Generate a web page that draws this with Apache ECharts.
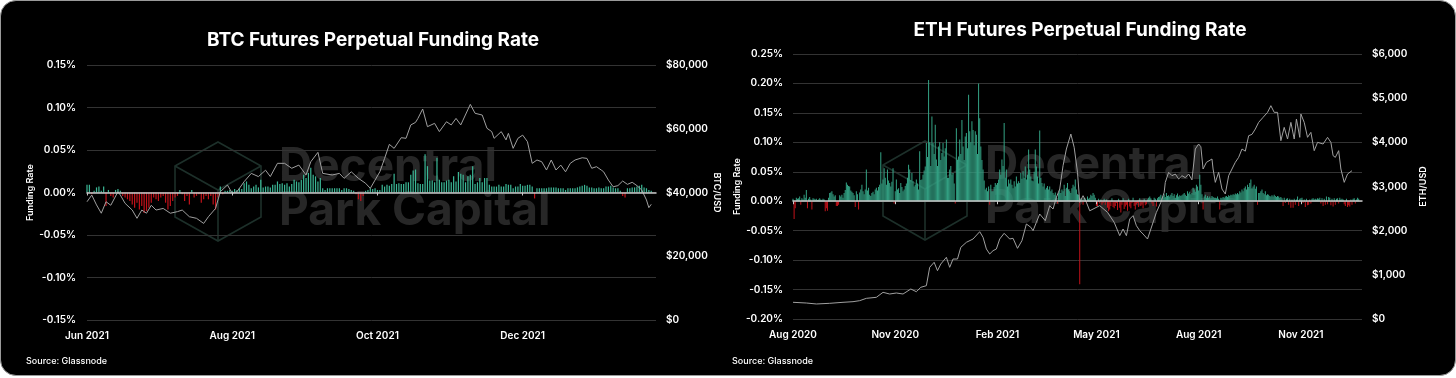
<!DOCTYPE html>
<html><head><meta charset="utf-8">
<script src="https://cdn.jsdelivr.net/npm/echarts@6/dist/echarts.min.js"></script>
<style>
html,body{margin:0;padding:0;background:#fff;width:1456px;height:378px;overflow:hidden}
#bg{position:absolute;left:0;top:0;width:1454px;height:374px;background:#000;border:1px solid #9a9a9a;border-radius:16px}
#chart{position:absolute;left:0;top:0;width:1456px;height:378px}
</style></head><body><div id="bg"></div><div id="chart"></div>
<script>
// ---------------- DATA ----------------
const btcStart = '2021-06-01';
const btcEnd = '2022-01-26';
const btcMonthTicks = ['2021-06-01','2021-08-01','2021-10-01','2021-12-01'];
// daily funding rate (%) from btcStart
const btcFunding = [
0.009,0.009,-0.002,0.002,0.006,0.007,0.002,0.007,-0.016,0.003,
-0.004,-0.006,0.003,0.004,0.002,-0.004,-0.006,-0.008,-0.010,-0.014,
-0.018,-0.012,-0.020,-0.016,-0.024,-0.022,-0.018,-0.012,-0.006,-0.008,
-0.010,-0.006,-0.004,-0.012,-0.020,-0.016,-0.010,-0.006,-0.004,0.003,
-0.002,-0.010,-0.004,-0.014,0.003,-0.006,-0.004,-0.002,-0.012,-0.008,
-0.004,-0.008,-0.004,-0.014,-0.020,-0.006,0.007,-0.002,0.002,0.002,
0.003,0.002,0.004,0.003,0.005,0.004,0.011,0.013,0.009,0.005,
0.007,0.009,0.006,0.015,0.006,0.007,0.007,0.006,0.009,0.009,
0.013,0.010,0.011,0.009,0.011,0.007,0.010,0.015,0.013,0.012,
0.015,0.021,0.017,0.023,0.029,0.021,0.019,0.013,0.017,0.005,
0.003,0.005,0.005,0.005,0.005,0.005,0.005,0.003,0.005,0.005,
0.004,0.003,0.002,-0.002,-0.008,-0.010,-0.004,0.002,0.003,0.005,
0.004,0.005,0.003,0.003,0.009,0.007,0.009,0.008,0.010,0.022,
0.010,0.011,0.010,0.010,0.012,0.012,0.021,0.026,0.027,0.011,
0.010,0.010,0.045,0.031,0.014,0.014,0.012,0.041,0.015,0.012,
0.012,0.014,0.015,0.012,0.019,0.013,0.024,0.022,0.021,0.012,
0.019,0.021,0.031,0.010,0.012,0.017,0.012,0.017,0.017,0.009,
0.007,0.007,0.007,0.009,0.007,0.007,0.010,0.009,0.009,0.005,
0.007,0.007,0.010,0.008,0.008,0.009,0.009,0.007,-0.007,0.005,
0.005,0.005,0.005,0.005,0.006,0.006,0.006,0.006,0.005,0.005,
0.005,0.003,0.005,0.005,0.005,0.005,0.006,0.007,0.008,0.009,
0.008,0.006,0.006,0.005,0.005,0.006,0.005,0.005,0.007,0.007,
0.008,0.006,0.005,0.005,0.002,-0.004,-0.006,0.005,0.005,0.006,
0.006,0.007,0.008,0.009,0.006,0.005,0.003,0.002
];
const btcPrice = [
['2021-06-01',37100],['2021-06-03',39200],['2021-06-05',36100],['2021-06-07',33500],['2021-06-09',37100],
['2021-06-11',36000],['2021-06-14',40250],['2021-06-15',39200],['2021-06-17',36600],['2021-06-20',34500],
['2021-06-22',31900],['2021-06-24',34500],['2021-06-26',33500],['2021-06-28',36000],['2021-06-30',34500],
['2021-07-03',35000],['2021-07-06',33500],['2021-07-09',34000],['2021-07-11',34500],['2021-07-14',32400],
['2021-07-17',31900],['2021-07-20',30300],['2021-07-22',32400],['2021-07-25',35000],['2021-07-27',40250],
['2021-07-30',42350],['2021-08-01',39750],['2021-08-03',40250],['2021-08-06',43400],['2021-08-09',46000],
['2021-08-12',45000],['2021-08-15',47000],['2021-08-17',45000],['2021-08-20',49150],['2021-08-23',49150],
['2021-08-26',47600],['2021-08-29',48600],['2021-09-01',45500],['2021-09-03',49650],['2021-09-06',52600],
['2021-09-08',46000],['2021-09-12',45500],['2021-09-15',46000],['2021-09-17',44450],['2021-09-20',46500],
['2021-09-23',44450],['2021-09-26',42900],['2021-09-28',41300],['2021-09-30',43900],['2021-10-02',46500],
['2021-10-04',50700],['2021-10-06',55100],['2021-10-08',53850],['2021-10-11',57200],['2021-10-13',57000],
['2021-10-15',61200],['2021-10-17',62000],['2021-10-18',63250],['2021-10-20',66200],['2021-10-22',60650],
['2021-10-25',61700],['2021-10-27',59100],['2021-10-30',62200],['2021-11-01',61200],['2021-11-03',63250],
['2021-11-05',61200],['2021-11-09',67650],['2021-11-11',64850],['2021-11-14',64300],['2021-11-16',60150],
['2021-11-18',59100],['2021-11-19',57000],['2021-11-22',59100],['2021-11-24',56500],['2021-11-25',58550],
['2021-11-27',53850],['2021-11-29',57000],['2021-12-01',58000],['2021-12-03',55950],['2021-12-05',49150],
['2021-12-07',50200],['2021-12-09',49650],['2021-12-11',47050],['2021-12-13',50200],['2021-12-15',47050],
['2021-12-17',48600],['2021-12-19',46500],['2021-12-21',49150],['2021-12-23',50200],['2021-12-26',50900],
['2021-12-28',50700],['2021-12-30',47600],['2022-01-01',48100],['2022-01-03',47050],['2022-01-04',46500],
['2022-01-06',43900],['2022-01-08',41800],['2022-01-10',42150],['2022-01-12',43600],['2022-01-14',42550],
['2022-01-16',43200],['2022-01-18',42150],['2022-01-20',40800],['2022-01-22',37650],['2022-01-23',35250],
['2022-01-24',36300]
];

const ethStart = '2020-08-01';
const ethEnd = '2021-12-26';
const ethMonthTicks = ['2020-08-01','2020-11-01','2021-02-01','2021-05-01','2021-08-01','2021-11-01'];
const ethFunding = [
0.004,-0.030,-0.012,0.006,0.004,0.005,0.008,-0.006,0.005,0.003,
0.011,0.006,0.019,-0.012,0.004,0.007,0.003,-0.014,0.005,0.004,
0.003,0.004,0.002,0.003,0.005,0.003,0.002,0.004,0.003,-0.017,
-0.012,-0.016,0.006,0.014,0.015,0.017,0.012,0.008,0.010,-0.008,
-0.008,-0.006,0.010,0.008,0.011,0.006,0.014,0.019,0.032,0.028,
0.026,0.025,0.018,0.016,0.014,0.010,-0.010,0.017,0.012,-0.014,
0.015,0.020,0.028,0.017,0.012,0.020,0.054,0.018,0.023,0.011,
0.009,0.014,0.016,0.012,0.020,0.023,0.018,0.024,0.028,0.083,
0.030,0.037,0.056,0.040,0.028,0.054,0.035,0.031,0.025,0.033,
0.056,-0.004,0.017,0.037,0.020,0.022,0.014,0.031,0.024,0.017,
0.020,0.026,0.030,0.040,0.062,0.054,0.036,0.048,0.034,0.025,
0.028,0.037,0.030,0.020,0.085,0.036,0.037,0.045,0.052,0.059,
0.099,0.075,0.206,0.100,0.060,0.144,0.099,0.080,0.130,0.071,
0.060,0.093,0.100,0.070,0.082,0.099,0.076,0.090,0.105,0.040,
0.040,0.054,0.060,0.045,0.048,0.030,-0.004,0.124,0.070,0.076,
0.105,0.080,0.138,0.093,0.070,0.110,0.116,0.090,0.181,0.119,
0.100,0.136,0.121,0.095,0.119,0.113,0.080,0.200,0.141,0.093,
0.070,0.054,0.035,0.020,0.023,0.017,0.025,-0.006,0.028,0.017,
0.017,0.024,0.031,0.028,0.031,0.037,0.054,0.045,0.071,0.060,
0.133,0.040,0.054,0.025,0.037,0.030,0.037,0.028,0.022,0.034,
0.025,0.042,0.030,0.034,0.031,0.048,0.038,0.051,0.040,0.059,
0.037,0.045,0.088,0.054,0.042,0.035,0.034,0.050,0.088,0.059,
0.042,0.030,0.120,0.040,0.031,0.025,0.030,0.020,0.023,0.026,
0.020,0.025,0.017,0.020,0.014,0.011,0.015,0.008,-0.004,0.014,
0.020,0.014,0.020,0.017,0.028,0.009,0.023,0.031,0.020,0.017,
0.014,0.022,0.028,0.025,0.037,0.020,0.012,0.011,-0.141,0.004,
0.003,-0.006,0.006,0.004,-0.003,0.008,0.004,0.006,0.011,0.009,
0.014,0.011,0.006,-0.008,-0.008,0.004,-0.004,0.003,-0.006,-0.003,
0.004,-0.006,0.003,-0.011,-0.017,-0.014,-0.008,0.005,-0.010,-0.012,
-0.008,-0.003,-0.015,0.004,-0.011,-0.019,-0.006,0.005,-0.013,-0.009,
-0.006,-0.016,0.004,-0.009,-0.012,-0.003,0.006,-0.008,-0.014,-0.005,
-0.003,-0.010,0.005,-0.008,-0.006,-0.012,0.004,-0.007,-0.005,0.003,
0.006,0.008,0.005,-0.004,-0.008,0.006,0.004,-0.009,0.005,0.007,
0.008,0.011,0.006,0.009,0.012,0.007,0.014,0.009,0.010,0.008,
0.011,0.014,0.009,0.012,0.006,0.010,0.013,0.008,0.010,0.009,
0.010,0.012,0.014,0.011,0.009,0.017,0.013,0.016,0.012,0.014,
0.023,0.020,0.016,0.028,0.025,0.018,0.045,0.028,0.012,-0.014,
0.008,0.011,0.006,0.009,0.006,0.008,0.005,0.009,0.007,0.006,
0.006,0.005,0.008,0.004,-0.014,0.006,0.005,0.007,0.006,0.008,
0.009,0.007,0.010,0.009,0.011,0.010,0.012,0.011,0.013,0.012,
0.014,0.012,0.017,0.015,0.020,0.017,0.022,0.025,0.020,0.028,
0.024,0.031,0.037,0.022,0.025,0.028,0.021,0.025,-0.006,0.014,
0.014,0.017,0.020,0.014,0.012,0.017,0.010,0.012,0.011,0.009,
0.008,0.010,0.008,0.011,0.009,0.007,0.009,0.008,0.006,0.007,
0.005,-0.008,0.006,-0.003,0.004,0.005,-0.006,0.004,-0.011,0.003,
-0.011,0.004,-0.006,0.003,0.008,-0.008,0.004,0.005,0.006,-0.003,
0.003,-0.010,0.004,-0.007,-0.006,0.003,-0.004,0.004,0.005,0.003,
0.004,0.003,0.005,0.004,0.006,-0.004,0.005,-0.008,0.004,-0.006,
0.008,-0.005,0.007,0.006,-0.007,0.004,-0.009,0.005,-0.006,0.004,
0.005,-0.004,0.006,0.003,0.004,0.003,-0.005,-0.008,0.004,-0.010,
-0.007,-0.009,0.003,-0.006,0.004,0.005,-0.004,0.003,0.006,0.004
];
const ethPrice = [
['2020-08-01',378],['2020-08-13',362],['2020-08-22',340],['2020-09-03',355],['2020-09-15',378],
['2020-09-24',392],['2020-09-30',415],['2020-10-06',468],['2020-10-15',491],['2020-10-21',604],
['2020-10-27',566],['2020-11-02',589],['2020-11-08',566],['2020-11-15',679],['2020-11-20',618],
['2020-11-24',718],['2020-11-29',754],['2020-12-02',1170],['2020-12-06',1284],['2020-12-09',1094],
['2020-12-12',1245],['2020-12-17',1397],['2020-12-20',1170],['2020-12-23',1358],['2020-12-27',1358],
['2020-12-30',1623],['2021-01-04',1736],['2021-01-10',1811],['2021-01-16',1977],['2021-01-19',1850],
['2021-01-22',1585],['2021-01-25',1472],['2021-01-28',1547],['2021-01-31',1585],['2021-02-03',1811],
['2021-02-07',1940],['2021-02-12',1811],['2021-02-15',1827],['2021-02-19',1600],['2021-02-23',1773],
['2021-02-27',2151],['2021-03-03',2076],['2021-03-05',2000],['2021-03-08',2189],['2021-03-11',2377],
['2021-03-16',2226],['2021-03-20',2566],['2021-03-23',2490],['2021-03-26',2755],['2021-03-29',2943],
['2021-04-01',3471],['2021-04-04',3849],['2021-04-08',4188],['2021-04-11',3887],['2021-04-14',3321],
['2021-04-16',2642],['2021-04-19',2792],['2021-04-22',2642],['2021-04-25',2450],['2021-05-04',2566],
['2021-05-11',2415],['2021-05-17',2189],['2021-05-22',1887],['2021-05-25',2038],['2021-05-28',1887],
['2021-05-31',2264],['2021-06-03',2340],['2021-06-06',2113],['2021-06-09',2000],['2021-06-12',1924],
['2021-06-16',1811],['2021-06-19',2038],['2021-06-24',2415],['2021-06-28',2642],['2021-07-01',2868],
['2021-07-02',3094],['2021-07-05',3321],['2021-07-08',3245],['2021-07-11',3283],['2021-07-14',3170],
['2021-07-17',3245],['2021-07-20',3200],['2021-07-23',3283],['2021-07-26',3150],['2021-07-29',3849],
['2021-08-01',3962],['2021-08-03',3900],['2021-08-05',3396],['2021-08-08',3547],['2021-08-13',3622],
['2021-08-14',3396],['2021-08-16',3094],['2021-08-19',3321],['2021-08-22',2943],['2021-08-25',2830],
['2021-08-28',3245],['2021-08-31',3396],['2021-09-03',3547],['2021-09-06',3660],['2021-09-09',3849],
['2021-09-12',3800],['2021-09-15',4150],['2021-09-18',4180],['2021-09-21',4301],['2021-09-24',4452],
['2021-09-28',4566],['2021-10-02',4679],['2021-10-05',4830],['2021-10-08',4679],['2021-10-11',4679],
['2021-10-14',4037],['2021-10-17',4339],['2021-10-20',4075],['2021-10-23',4452],['2021-10-26',4075],
['2021-10-28',4528],['2021-10-31',4113],['2021-11-01',4641],['2021-11-04',4452],['2021-11-07',4113],
['2021-11-10',4226],['2021-11-13',3811],['2021-11-16',4000],['2021-11-21',3962],['2021-11-25',4113],
['2021-11-28',4000],['2021-11-30',3698],['2021-12-02',3660],['2021-12-05',3811],['2021-12-07',3396],
['2021-12-10',3094],['2021-12-13',3283],['2021-12-17',3358]
];

// ---------------- HELPERS ----------------
const DAY = 86400000;
const MONTHS = ['Jan','Feb','Mar','Apr','May','Jun','Jul','Aug','Sep','Oct','Nov','Dec'];
const utc = s => { const p = s.split('-').map(Number); return Date.UTC(p[0], p[1]-1, p[2]); };
const daily = (start, arr) => arr.map((v, i) => [utc(start) + i * DAY, v]);
const dated = arr => arr.map(d => [utc(d[0]), d[1]]);
const monthLabel = v => { const d = new Date(v); return MONTHS[d.getUTCMonth()] + ' ' + d.getUTCFullYear(); };
const pct = v => (Math.abs(v) < 1e-9 ? 0 : v).toFixed(2) + '%';
const usd = v => '$' + Math.round(v).toLocaleString('en-US');

const WHITE = '#ffffff';
const FONT = 'Inter';
const TEAL_BTC = '#3bb896';
const TEAL_ETH = '#34a385';
const RED = '#c3121a';
const GRIDC = '#333333';
const ZEROC = '#c8c8c8';
const PRICEC = '#a0a0a0';

const tickStyle = {color: WHITE, fontSize: 10, fontWeight: 600, fontFamily: FONT};
const nameStyle = {color: WHITE, fontSize: 9, fontWeight: 600, fontFamily: FONT};

function xAxesFor(grid, min, max, ticks, yIdx) {
  const tv = ticks.map(utc);
  return [
    {type: 'value', gridIndex: grid, min: utc(min), max: utc(max),
     axisLine: {show: false, onZero: false}, axisTick: {show: false}, splitLine: {show: false},
     axisLabel: Object.assign({customValues: tv, formatter: monthLabel, margin: 11, showMinLabel: true, showMaxLabel: true}, tickStyle)},
    {type: 'value', gridIndex: grid, min: utc(min), max: utc(max), position: 'bottom',
     axisLine: {show: true, onZero: true, onZeroAxisIndex: yIdx, lineStyle: {color: ZEROC, width: 1.5}},
     axisTick: {show: true, customValues: tv, length: 3, lineStyle: {color: ZEROC, width: 1}},
     axisLabel: {show: false}, splitLine: {show: false}, z: 5}
  ];
}

function cube(cx, top, hw) {
  const h1 = 24, h2 = 75, h3 = 99, col = '#1d302a';
  const UL = [cx - hw, top + h1], UR = [cx + hw, top + h1], LL = [cx - hw, top + h2], LR = [cx + hw, top + h2];
  const T = [cx, top], B = [cx, top + h3], C = [cx, top + 48];
  const st = {stroke: col, lineWidth: 1.6, fill: null};
  return [
    {type: 'polygon', z: -10, silent: true, shape: {points: [T, UR, LR, B, LL, UL]}, style: st},
    {type: 'polyline', z: -10, silent: true, shape: {points: [UL, C, UR]}, style: st},
    {type: 'polyline', z: -10, silent: true, shape: {points: [C, B]}, style: st}
  ];
}
function wm(x, y1, y2) {
  const s = {fill: '#272727', fontSize: 46, fontWeight: 700, fontFamily: FONT, align: 'left', verticalAlign: 'middle'};
  return [
    {type: 'text', z: -10, silent: true, x: x, y: y1, style: Object.assign({text: 'Decentral'}, s)},
    {type: 'text', z: -10, silent: true, x: x, y: y2, style: Object.assign({text: 'Park Capital'}, s)}
  ];
}
function txt(text, x, y, size, weight, align) {
  return {type: 'text', x: x, y: y, silent: true,
    style: {text: text, fill: WHITE, fontSize: size, fontWeight: weight, fontFamily: FONT, align: align, verticalAlign: 'middle'}};
}

const colorBy = teal => p => (p.value[1] < 0 ? RED : teal);

const option = {
  animation: false,
  backgroundColor: 'transparent',
  textStyle: {fontFamily: FONT},
  grid: [
    {left: 87, top: 65, width: 569, height: 255},
    {left: 793, top: 54, width: 569, height: 265}
  ],
  xAxis: [].concat(
    xAxesFor(0, btcStart, btcEnd, btcMonthTicks, 0),
    xAxesFor(1, ethStart, ethEnd, ethMonthTicks, 2)
  ),
  yAxis: [
    {type: 'value', gridIndex: 0, position: 'left', min: -0.15, max: 0.15, interval: 0.05,
     axisLine: {show: false}, axisTick: {show: false},
     axisLabel: Object.assign({formatter: pct, margin: 11}, tickStyle),
     splitLine: {lineStyle: {color: GRIDC, width: 1}},
     name: 'Funding Rate', nameLocation: 'middle', nameGap: 43, nameTextStyle: nameStyle},
    {type: 'value', gridIndex: 0, position: 'right', min: 0, max: 80000, interval: 20000,
     axisLine: {show: false}, axisTick: {show: false},
     axisLabel: Object.assign({formatter: usd, margin: 10}, tickStyle),
     splitLine: {show: false},
     name: 'BTC/USD', nameLocation: 'middle', nameGap: 55, nameRotate: -90, nameTextStyle: nameStyle},
    {type: 'value', gridIndex: 1, position: 'left', min: -0.2, max: 0.25, interval: 0.05,
     axisLine: {show: false}, axisTick: {show: false},
     axisLabel: Object.assign({formatter: pct, margin: 10}, tickStyle),
     splitLine: {lineStyle: {color: GRIDC, width: 1}},
     name: 'Funding Rate', nameLocation: 'middle', nameGap: 44, nameTextStyle: nameStyle},
    {type: 'value', gridIndex: 1, position: 'right', min: 0, max: 6000, interval: 1000,
     axisLine: {show: false}, axisTick: {show: false},
     axisLabel: Object.assign({formatter: usd, margin: 10}, tickStyle),
     splitLine: {show: false},
     name: 'ETH/USD', nameLocation: 'middle', nameGap: 57, nameTextStyle: nameStyle}
  ],
  series: [
    {type: 'bar', xAxisIndex: 0, yAxisIndex: 0, data: daily(btcStart, btcFunding), barWidth: 1.2,
     itemStyle: {color: colorBy(TEAL_BTC)}, silent: true},
    {type: 'line', xAxisIndex: 0, yAxisIndex: 1, data: dated(btcPrice), showSymbol: false, symbol: 'none',
     lineStyle: {color: PRICEC, width: 1}, silent: true, z: 4},
    {type: 'bar', xAxisIndex: 2, yAxisIndex: 2, data: daily(ethStart, ethFunding), barWidth: 0.6,
     itemStyle: {color: colorBy(TEAL_ETH)}, silent: true},
    {type: 'line', xAxisIndex: 2, yAxisIndex: 3, data: dated(ethPrice), showSymbol: false, symbol: 'none',
     lineStyle: {color: PRICEC, width: 1}, silent: true, z: 4}
  ],
  graphic: {elements: [].concat(
    cube(218, 142, 43), wm(279, 167, 211),
    cube(925, 141, 42), wm(985, 165, 209),
    [txt('BTC Futures Perpetual Funding Rate', 373, 40, 19, 700, 'center'),
     txt('ETH Futures Perpetual Funding Rate', 1080, 30, 19, 700, 'center'),
     txt('Source: Glassnode', 26, 361, 9, 500, 'left'),
     txt('Source: Glassnode', 732, 361, 9, 500, 'left')]
  )}
};

const chart = echarts.init(document.getElementById('chart'), null, {renderer: 'canvas', width: 1456, height: 378});
chart.setOption(option);
</script></body></html>
